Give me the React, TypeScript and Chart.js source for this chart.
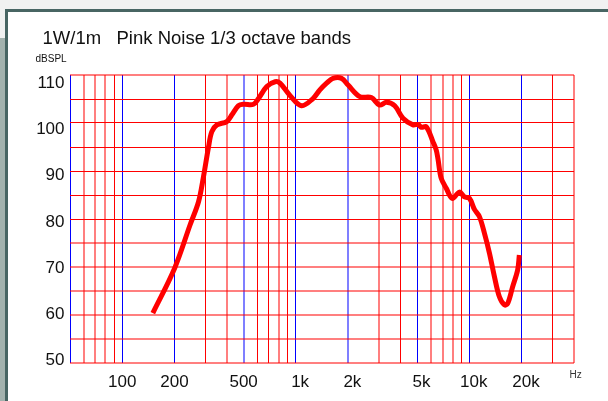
import React, { useEffect, useRef } from "react";
import { Chart, registerables } from "chart.js";

Chart.register(...registerables);

// ---- data ----
const FREQS = [150, 200, 246, 275, 293, 314, 328, 351, 400, 428, 467, 500, 570, 609, 680, 760, 810, 922, 1078, 1255, 1375, 1503, 1635, 1833, 2000, 2335, 2720, 3030, 3325, 3710, 4140, 4730, 5055, 5280, 5640, 6160, 6430, 6580, 6870, 7350, 7950, 8760, 9360, 10000, 10680, 11410, 12200, 13030, 13920, 14870, 15890, 16600, 17730, 18950, 19370];
const SPL = [60.4, 69.7, 78.8, 83.6, 88.6, 95.0, 98.2, 99.6, 100.3, 101.7, 103.6, 103.9, 103.9, 105.1, 107.6, 108.6, 108.3, 105.8, 103.6, 105.1, 106.9, 108.3, 109.3, 109.3, 107.9, 105.5, 105.3, 103.75, 104.3, 103.6, 101.0, 99.6, 99.7, 99.1, 99.2, 96.1, 94.4, 92.6, 88.5, 86.4, 84.3, 85.6, 84.6, 84.3, 82.0, 80.5, 77.0, 72.9, 68.0, 63.8, 62.1, 62.4, 65.9, 69.4, 72.5];

const X_MIN = 50;
const X_MAX = 40000;
const X_GRID = [50, 60, 70, 80, 90, 100, 200, 300, 400, 500, 600, 700, 800, 900, 1000, 2000, 3000, 4000, 5000, 6000, 7000, 8000, 9000, 10000, 20000, 30000, 40000];
const X_BLUE = [50, 100, 200, 500, 1000, 2000, 5000, 10000, 20000];
const X_LIGHT = [60, 70, 80, 400, 500, 800, 2000, 3000, 6000, 7000, 8000, 40000];
const X_LABEL_VALUES = [100, 200, 500, 1000, 2000, 5000, 10000, 20000];
const X_LABEL_NUMS = ["100", "200", "500", "1", "2", "5", "10", "20"];
const X_LABEL_SUFFIX = ["", "", "", "k", "k", "k", "k", "k"];

const Y_MIN = 50;
const Y_MAX = 110;
const Y_STEP = 5;
const Y_LABELS = [50, 60, 70, 80, 90, 100, 110];
const Y_LIGHT = [50, 55, 60, 65, 70, 75, 110];

const TITLE = "1W/1m   Pink Noise 1/3 octave bands";
const Y_UNIT = "dBSPL";
const X_UNIT = "Hz";

const FONT = '"Liberation Sans", Arial, sans-serif';

const textPlugin = {
  id: "texts",
  afterDraw(chart: any) {
    const ctx = chart.ctx;
    const xs = chart.scales.x;
    const ys = chart.scales.y;
    ctx.save();
    ctx.fillStyle = "#111";
    ctx.textBaseline = "alphabetic";
    // title
    ctx.font = `18.5px ${FONT}`;
    ctx.textAlign = "left";
    ctx.fillText(TITLE, 42.5, 44);
    // unit labels
    ctx.font = `10px ${FONT}`;
    ctx.fillText(Y_UNIT, 35.5, 62);
    ctx.fillStyle = "#333";
    ctx.fillText(X_UNIT, 569.5, 377.5);
    ctx.fillStyle = "#111";
    // y labels
    ctx.font = `17px ${FONT}`;
    ctx.textAlign = "right";
    Y_LABELS.forEach((v) => {
      const py = ys.getPixelForValue(v);
      ctx.fillText(String(v), 64.5, py + 2.4 + (v - 50) * 0.177);
    });
    // x labels: number centred on the line, suffix hanging
    X_LABEL_VALUES.forEach((v, i) => {
      const px = xs.getPixelForValue(v);
      const num = X_LABEL_NUMS[i];
      const w = ctx.measureText(num).width;
      ctx.textAlign = "left";
      ctx.fillText(num + X_LABEL_SUFFIX[i], px - w / 2, 386.5);
    });
    ctx.restore();
  },
};

export default function App() {
  const ref = useRef<HTMLCanvasElement>(null);

  useEffect(() => {
    const canvas = ref.current!;
    const chart = new Chart(canvas, {
      type: "line",
      data: {
        datasets: [
          {
            data: FREQS.map((f, i) => ({ x: f, y: SPL[i] })),
            borderColor: "#ff0000",
            borderWidth: 5,
            pointRadius: 0,
            tension: 0.35,
            fill: false,
            borderJoinStyle: "round",
          },
        ],
      },
      options: {
        responsive: false,
        animation: false,
        devicePixelRatio: 1,
        layout: { padding: { left: 0, top: 75, right: 34, bottom: 0 } },
        plugins: { legend: { display: false }, title: { display: false }, tooltip: { enabled: false } },
        scales: {
          x: {
            type: "logarithmic",
            min: X_MIN,
            max: X_MAX,
            border: { display: false },
            ticks: { display: false },
            afterBuildTicks: (scale: any) => {
              scale.ticks = X_GRID.map((v) => ({ value: v }));
            },
            afterFit: (scale: any) => {
              scale.height = 38;
            },
            grid: {
              drawTicks: false,
              tickLength: 0,
              color: (c: any) => {
                const v = c.tick ? c.tick.value : 0;
                const light = X_LIGHT.includes(v);
                if (X_BLUE.includes(v)) return light ? "rgba(0,0,255,0.5)" : "#0000ff";
                return light ? "rgba(255,0,0,0.5)" : "#ff0000";
              },
              lineWidth: (c: any) => {
                const v = c.tick ? c.tick.value : 0;
                return X_LIGHT.includes(v) ? 2 : 1;
              },
            },
          },
          y: {
            type: "linear",
            min: Y_MIN,
            max: Y_MAX,
            border: { display: false },
            ticks: { display: false, stepSize: Y_STEP },
            afterFit: (scale: any) => {
              scale.width = 70;
            },
            grid: {
              drawTicks: false,
              tickLength: 0,
              color: (c: any) => {
                const v = c.tick ? c.tick.value : 0;
                return Y_LIGHT.includes(v) ? "rgba(255,0,0,0.5)" : "#ff0000";
              },
              lineWidth: (c: any) => {
                const v = c.tick ? c.tick.value : 0;
                return Y_LIGHT.includes(v) ? 2 : 1;
              },
            },
          },
        },
      },
      plugins: [textPlugin],
    } as any);
    return () => chart.destroy();
  }, []);

  return (
    <div style={{ position: "fixed", left: 0, top: 0, width: 608, height: 401, background: "#f1f1f1", overflow: "hidden" }}>
      <div style={{ position: "absolute", left: 0, top: 38, width: 5, height: 363, background: "#a3b2ae" }} />
      <div
        style={{
          position: "absolute",
          left: 5,
          top: 9,
          width: 603,
          height: 392,
          background: "#ffffff",
          borderTop: "3px solid #486563",
          borderLeft: "3px solid #486563",
          boxSizing: "border-box",
        }}
      />
      <canvas ref={ref} width={608} height={401} style={{ position: "absolute", left: 0, top: 0, width: 608, height: 401 }} />
    </div>
  );
}
